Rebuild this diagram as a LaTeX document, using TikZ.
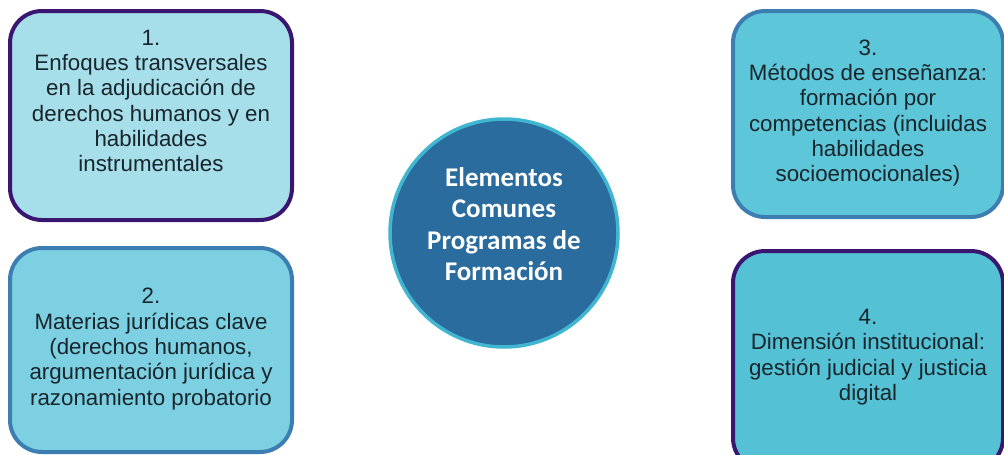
\documentclass[tikz,border=0pt]{standalone}
\usepackage{fontspec}
\setmainfont{Liberation Sans}
\newfontfamily\boldfam{Carlito}
\definecolor{purpleborder}{HTML}{3A1670}
\definecolor{blueborder}{HTML}{3C7DB2}
\definecolor{fillA}{HTML}{A6DEEA}
\definecolor{fillB}{HTML}{7DD0E2}
\definecolor{fillC}{HTML}{5EC6D9}
\definecolor{fillD}{HTML}{54C1D5}
\definecolor{circfill}{HTML}{2A6C9D}
\definecolor{circborder}{HTML}{40B6D0}
\definecolor{txt}{HTML}{18262C}
\begin{document}
\begin{tikzpicture}[x=1pt,y=-1pt,
  boxshape/.style={draw, line width=4pt, rounded corners=32pt},
  boxtext/.style={align=center, text=txt, font=\fontsize{22.3}{25.3}\selectfont, inner sep=0pt}]
\useasboundingbox (0,0) rectangle (1004,455);
\fill[white] (0,0) rectangle (1004,455);
% boxes
\path[boxshape, draw=purpleborder, fill=fillA] (10,11) rectangle (292,220);
\node[boxtext] (t1) at (151,101) {1.\\Enfoques transversales\\en la adjudicación de\\derechos humanos y en\\habilidades\\instrumentales};
\path[boxshape, draw=blueborder, fill=fillB] (10,248) rectangle (292,452);
\node[boxtext] (t2) at (151,349) {2.\\Materias jurídicas clave\\(derechos humanos,\\argumentación jurídica y\\razonamiento probatorio};
\path[boxshape, draw=blueborder, fill=fillC] (733,11) rectangle (1003,217);
\node[boxtext] (t3) at (868,113) {3.\\Métodos de enseñanza:\\formación por\\competencias (incluidas\\habilidades\\socioemocionales)};
\path[boxshape, draw=purpleborder, fill=fillD] (733,251) rectangle (1003,470);
\node[boxtext] (t4) at (868,357) {4.\\Dimensión institucional:\\gestión judicial y justicia\\digital};
% circle
\node[circle, draw=circborder, line width=3.5pt, fill=circfill, minimum size=228pt, inner sep=0pt] (c) at (504,233) {};
\node[align=center, text=white, font=\boldfam\bfseries\fontsize{27}{31.5}\selectfont, inner sep=0pt] (ct) at (504,224) {Elementos\\Comunes\\Programas de\\Formación};
\end{tikzpicture}
\end{document}
